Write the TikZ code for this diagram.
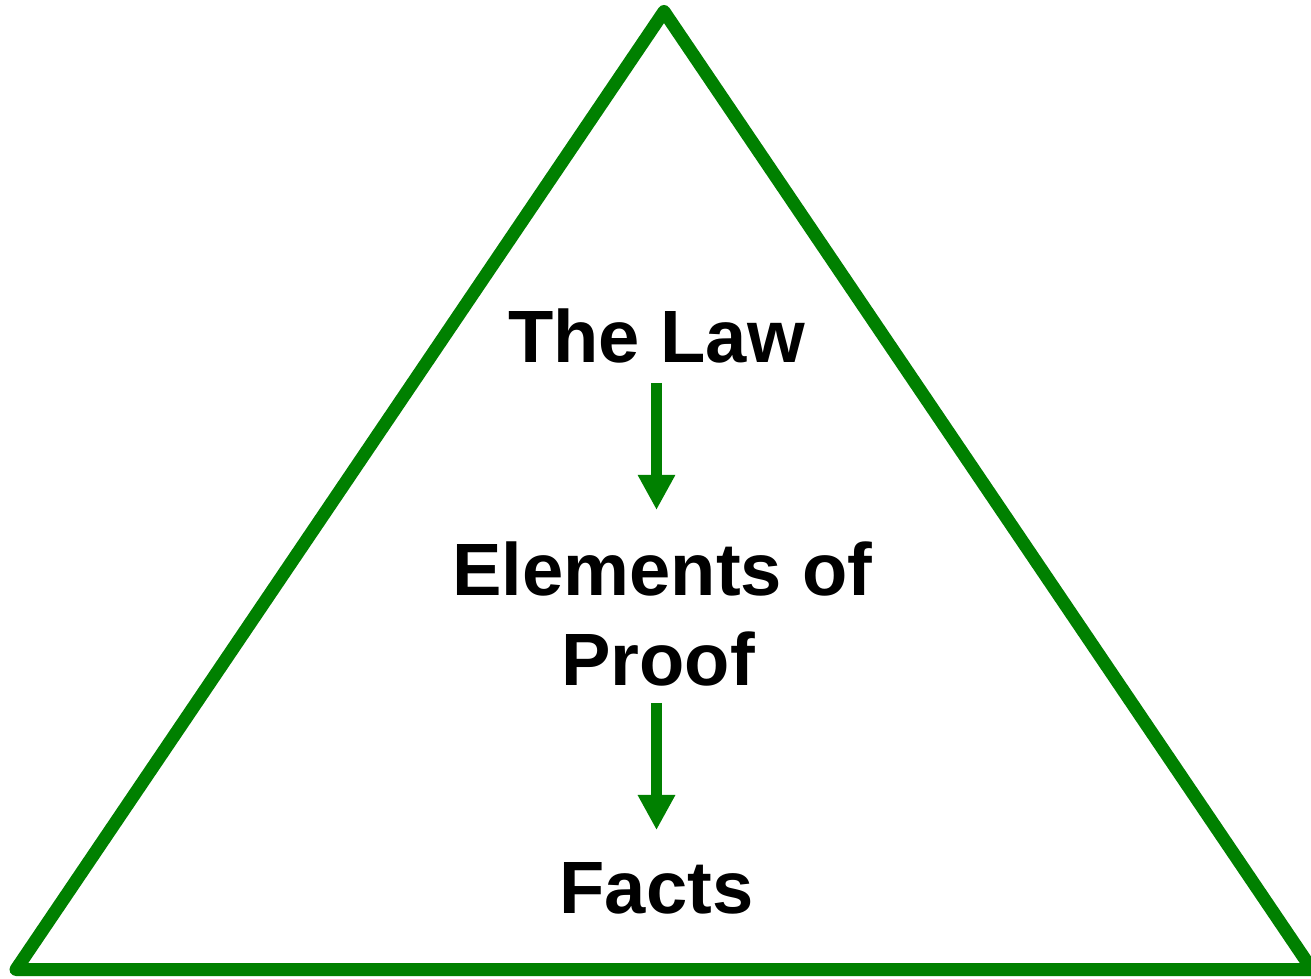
\documentclass[tikz,border=0pt]{standalone}
\usepackage{fontspec}
\setmainfont{Liberation Sans}
\usetikzlibrary{arrows.meta}
\definecolor{tgreen}{HTML}{008000}
\tikzset{
  lbl/.style={inner sep=0pt, text height=0pt, text depth=0pt, anchor=base,
    font=\fontsize{42.2pt}{50pt}\selectfont\bfseries},
  frame/.style={draw=tgreen, line width=7.4pt, line join=round},
  arr/.style={draw=tgreen, line width=6.8pt,
    -{Triangle[length=20pt, width=20pt]}}
}
\begin{document}
\begin{tikzpicture}[x=0.02cm, y=-0.02cm]
\useasboundingbox (0,0) rectangle (1311,979);
\draw[frame] (664,11.5) -- (1312,969.5) -- (16,969.5) -- cycle;
\node[lbl] (law) at (656.5,362.3) {The Law};
\node[lbl] (elem1) at (662.5,595.7) {Elements of};
\node[lbl] (elem2) at (658,685.7) {Proof};
\node[lbl] (facts) at (656.5,913.3) {Facts};
\draw[arr, shorten <=0.388cm, shorten >=1.69cm] (law.south) -- (law.south |- elem1.north);
\draw[arr, shorten <=0.32cm, shorten >=1.64cm] (facts |- elem2.south) -- (facts.north);
\end{tikzpicture}
\end{document}
